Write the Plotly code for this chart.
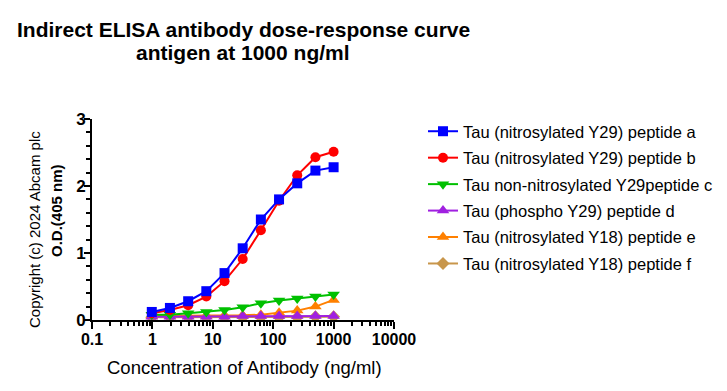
import plotly.graph_objects as go

conc = [0.977, 1.95, 3.91, 7.81, 15.63, 31.25, 62.5, 125, 250, 500, 1000]
names = [
    "Tau (nitrosylated Y29) peptide a",
    "Tau (nitrosylated Y29) peptide b",
    "Tau non-nitrosylated Y29peptide c",
    "Tau (phospho Y29) peptide d",
    "Tau (nitrosylated Y18) peptide e",
    "Tau (nitrosylated Y18) peptide f",
]
pep_a = [0.12, 0.18, 0.28, 0.43, 0.70, 1.07, 1.50, 1.80, 2.04, 2.23, 2.28]
pep_b = [0.10, 0.15, 0.22, 0.35, 0.58, 0.91, 1.34, 1.78, 2.16, 2.43, 2.51]
pep_c = [0.08, 0.08, 0.10, 0.12, 0.15, 0.19, 0.25, 0.29, 0.32, 0.35, 0.38]
pep_d = [0.05, 0.05, 0.05, 0.05, 0.05, 0.06, 0.06, 0.06, 0.06, 0.06, 0.06]
pep_e = [0.06, 0.06, 0.06, 0.06, 0.07, 0.07, 0.08, 0.11, 0.14, 0.20, 0.30]
pep_f = [0.04, 0.04, 0.04, 0.04, 0.04, 0.04, 0.04, 0.04, 0.04, 0.05, 0.05]
x_ticks = [0.1, 1, 10, 100, 1000, 10000]
x_labels = ["0.1", "1", "10", "100", "1000", "10000"]

series = [pep_a, pep_b, pep_c, pep_d, pep_e, pep_f]
colors = ["#0000FF", "#FF0000", "#00C000", "#A020E0", "#FF8000", "#C8964B"]
symbols = ["square", "circle", "triangle-down", "triangle-up", "triangle-up", "diamond"]
sizes = [10, 10, 11, 11, 11, 10]

FONT = "Liberation Sans, Arial, sans-serif"

# page has 8px body margin; figure coords = page coords - 8
L, T, PW, PH = 84, 111, 302, 201
W, H = 711, 375


def px(xf):
    return (xf - L) / PW


def py(yf):
    return (T + PH - yf) / PH


fig = go.Figure()
for i in reversed(range(6)):
    fig.add_trace(go.Scatter(
        x=conc, y=series[i], name=names[i], mode="lines+markers",
        line=dict(color=colors[i], width=2),
        marker=dict(symbol=symbols[i], size=sizes[i], color=colors[i]),
        legendrank=i + 1, legendgroup=f"g{i}",
    ))

fig.update_layout(
    width=W, height=H,
    margin=dict(l=L, r=W - L - PW, t=T, b=H - T - PH, autoexpand=False),
    paper_bgcolor="white", plot_bgcolor="white",
    font=dict(family=FONT, color="black"),
    legend=dict(
        x=px(415), y=py(106), xanchor="left", yanchor="top",
        font=dict(size=16.5, family=FONT, color="black"),
        traceorder="grouped", tracegroupgap=2, itemwidth=30,
        bgcolor="rgba(0,0,0,0)",
    ),
    showlegend=True,
)

fig.update_xaxes(
    type="log", range=[-1, 4],
    tickvals=x_ticks, ticktext=x_labels,
    ticks="outside", ticklen=7, tickwidth=2, tickcolor="black",
    showline=True, linecolor="black", linewidth=2,
    showgrid=False, zeroline=False,
    tickfont=dict(size=16, family=FONT, color="black", weight="bold"),
    ticklabelstandoff=-3,
    minor=dict(ticks="outside", ticklen=4, tickwidth=1.5, tickcolor="black", dtick="D1", showgrid=False),
)
fig.update_yaxes(
    range=[0, 3], tickvals=[0, 1, 2, 3],
    ticks="outside", ticklen=6, tickwidth=2, tickcolor="black",
    showline=True, linecolor="black", linewidth=2,
    showgrid=False, zeroline=False,
    tickfont=dict(size=17, family=FONT, color="black", weight="bold"),
    ticklabelstandoff=-5,
    minor=dict(ticks="outside", ticklen=4, tickwidth=1.5, tickcolor="black", dtick=0.2, showgrid=False),
)

ann = dict(xref="paper", yref="paper", showarrow=False, xanchor="center", yanchor="middle")
fig.add_annotation(text="<b>Indirect ELISA antibody dose-response curve</b>",
                   x=px(235), y=py(22), font=dict(size=21, family=FONT, color="black"), **ann)
fig.add_annotation(text="<b>antigen at 1000 ng/ml</b>",
                   x=px(235), y=py(44), font=dict(size=21, family=FONT, color="black"), **ann)
fig.add_annotation(text="Concentration of Antibody (ng/ml)",
                   x=px(236), y=py(359), font=dict(size=18.5, family=FONT, color="black"), **ann)
fig.add_annotation(text="<b>O.D.(405 nm)</b>", textangle=-90,
                   x=px(48), y=py(203), font=dict(size=15, family=FONT, color="black"), **ann)
fig.add_annotation(text="Copyright (c) 2024 Abcam plc", textangle=-90,
                   x=px(26), y=py(222), font=dict(size=15, family=FONT, color="black"), **ann)

fig.write_html("out.html")
